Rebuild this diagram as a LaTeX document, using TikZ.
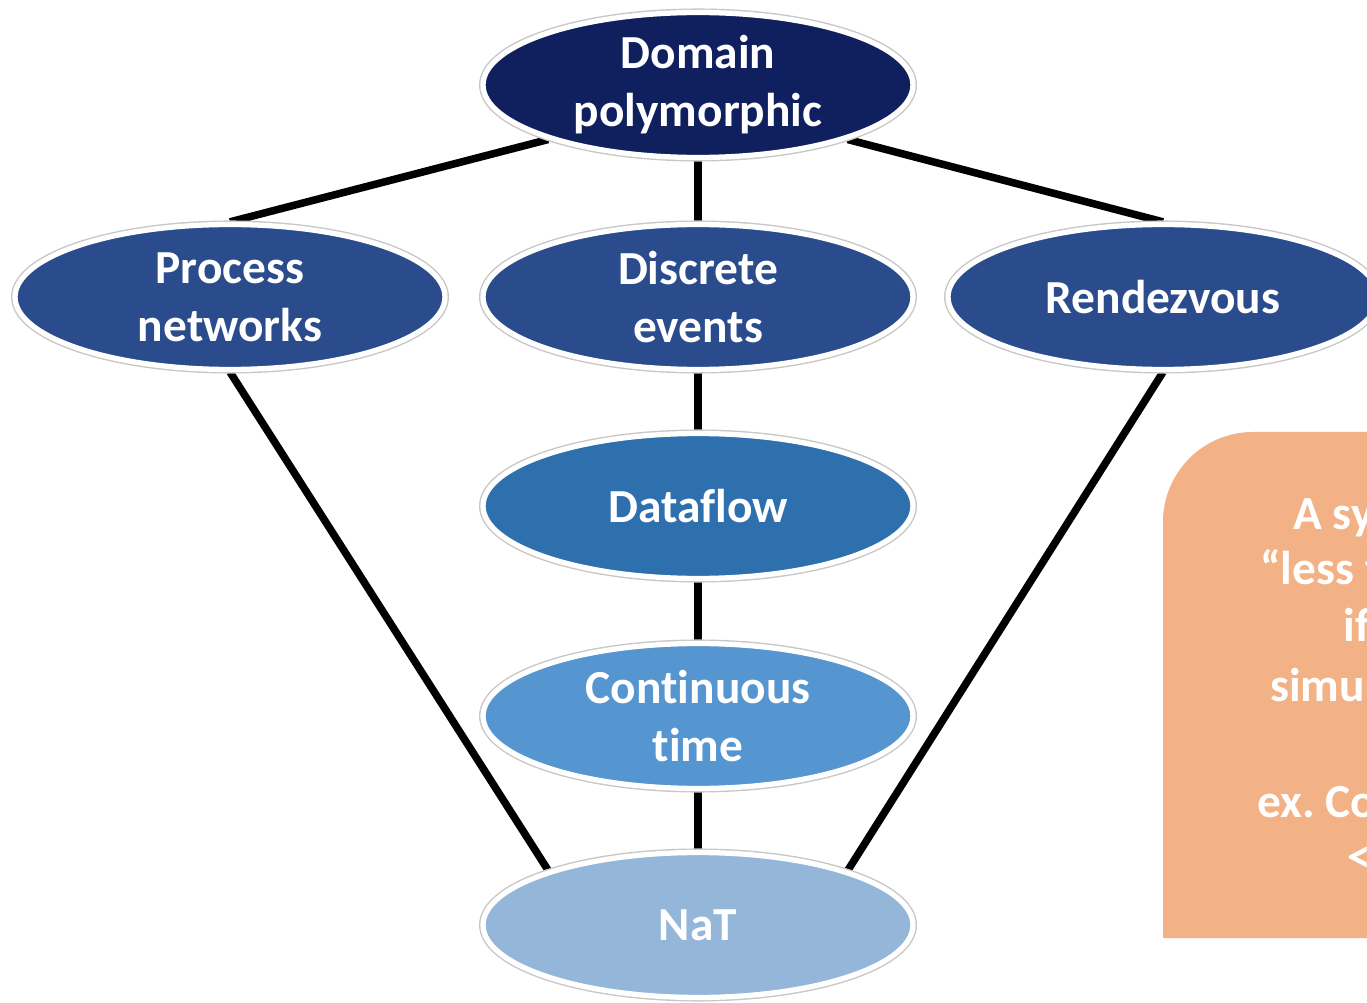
\documentclass[tikz,border=0pt]{standalone}
\usepackage{fontspec}
\setmainfont[Ligatures=NoCommon]{Carlito}
\usetikzlibrary{shapes.geometric,backgrounds}
\definecolor{topblue}{RGB}{16,32,94}
\definecolor{midblue}{RGB}{43,76,140}
\definecolor{flowblue}{RGB}{46,112,174}
\definecolor{ctblue}{RGB}{85,149,208}
\definecolor{natblue}{RGB}{148,182,217}
\definecolor{notefill}{RGB}{243,177,134}
\tikzset{
	blob/.style={ellipse, fill=#1, draw=white, line width=3pt,
		preaction={draw=black!22, line width=4.6pt},
		minimum width=8.6cm, minimum height=2.9cm, inner sep=0pt,
		text=white, align=center, font=\fontsize{27}{33}\selectfont\bfseries},
	link/.style={line width=4.3pt, black},
	notetext/.style={anchor=base west, inner sep=0pt, text=white,
		font=\fontsize{27}{33}\selectfont\bfseries}
}
\begin{document}
\frenchspacing
\begin{tikzpicture}[x=0.02cm, y=-0.02cm]
	\useasboundingbox (0,0) rectangle (1367,1003);
	\clip (0,0) rectangle (1367,1003);
	% domains
	\node[blob=topblue] (dom) at (698,85) {Domain\\polymorphic};
	\node[blob=midblue] (pn) at (230,297) {Process\\networks};
	\node[blob=midblue] (de) at (698,297) {Discrete\\events};
	\node[blob=midblue] (rv) at (1163,297) {Rendezvous};
	\node[blob=flowblue] (df) at (698,506) {Dataflow};
	\node[blob=ctblue] (ct) at (698,716) {Continuous\\time};
	\node[blob=natblue] (nat) at (698,925) {NaT};
	% links
	\begin{scope}[on background layer]
		\draw[link] (dom.200) -- (pn.north);
		\draw[link] (dom.south) -- (de.north);
		\draw[link] (dom.340) -- (rv.north);
		\draw[link] (de.south) -- (df.north);
		\draw[link] (df.south) -- (ct.north);
		\draw[link] (ct.south) -- (nat.north);
		\draw[link] (pn.south) -- (nat.160);
		\draw[link] (rv.south) -- (nat.20);
	\end{scope}
	% note box (cut by the edge)
	\fill[notefill] (1163,938) [rounded corners=1.8cm] -- (1163,432) [sharp corners] -- (1420,432) -- (1420,938) -- cycle;
	\node[notetext] (n1) at (1293,530) {A sy};
	\node[notetext] (n2) at (1260,585) {“less t};
	\node[notetext] (n3) at (1343,642) {if};
	\node[notetext] (n4) at (1270,702) {simu};
	\node[notetext] (n5) at (1257,817) {ex. Co};
	\node[notetext] (n6) at (1347,872) {<};
\end{tikzpicture}
\end{document}
